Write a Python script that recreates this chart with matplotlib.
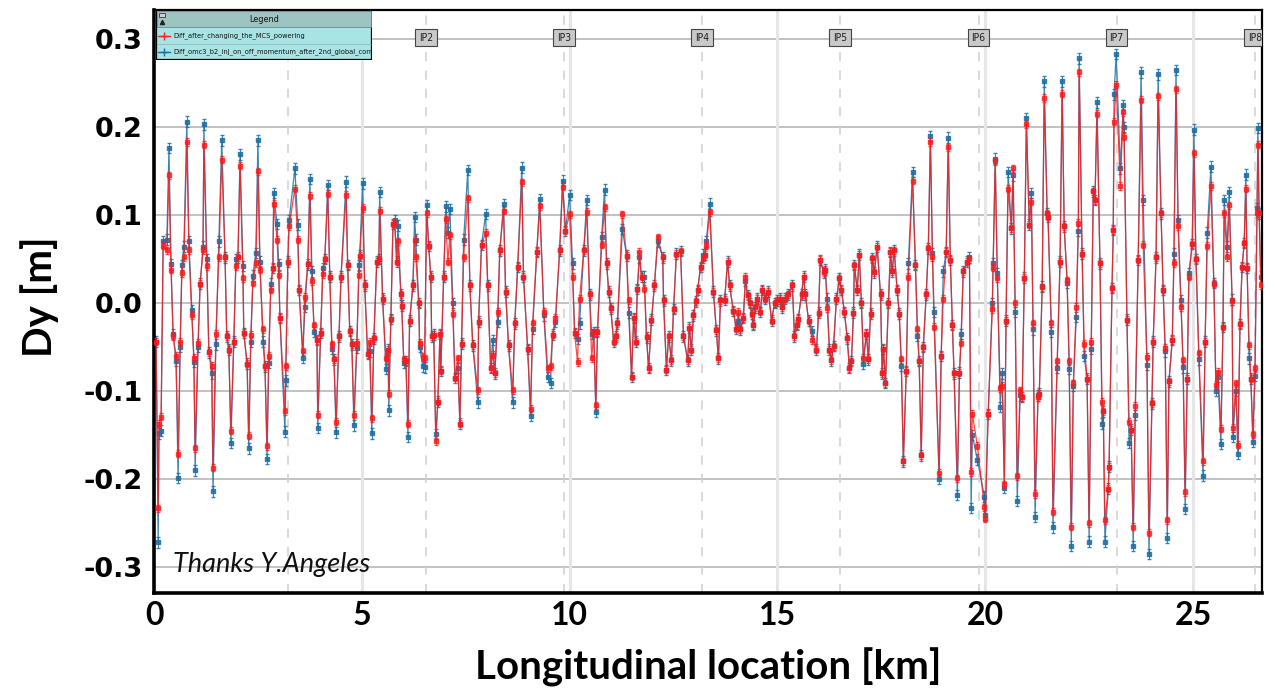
import numpy as np
import matplotlib.pyplot as plt
from matplotlib.patches import Rectangle

plt.rcParams["axes.unicode_minus"] = False

# longitudinal position of each BPM point [km]
s_km = [
    0.05, 0.10, 0.12, 0.17, 0.22, 0.31, 0.36, 0.41, 0.46, 0.53,
    0.58, 0.63, 0.67, 0.72, 0.79, 0.84, 0.91, 0.96, 0.99, 1.06,
    1.11, 1.18, 1.20, 1.27, 1.32, 1.39, 1.42, 1.49, 1.56, 1.63,
    1.71, 1.75, 1.80, 1.85, 1.92, 1.97, 2.02, 2.07, 2.14, 2.16,
    2.24, 2.28, 2.33, 2.38, 2.45, 2.50, 2.55, 2.62, 2.67, 2.72,
    2.76, 2.81, 2.86, 2.88, 2.96, 3.00, 3.03, 3.15, 3.17, 3.22,
    3.25, 3.39, 3.46, 3.49, 3.58, 3.63, 3.70, 3.75, 3.80, 3.85,
    3.92, 3.94, 4.01, 4.06, 4.11, 4.18, 4.23, 4.28, 4.33, 4.38,
    4.45, 4.50, 4.62, 4.66, 4.71, 4.76, 4.81, 4.88, 4.93, 4.95,
    5.02, 5.07, 5.14, 5.19, 5.24, 5.29, 5.36, 5.41, 5.43, 5.50,
    5.58, 5.63, 5.65, 5.70, 5.75, 5.79, 5.84, 5.87, 5.94, 5.96,
    6.01, 6.06, 6.11, 6.15, 6.23, 6.27, 6.30, 6.37, 6.39, 6.47,
    6.51, 6.56, 6.61, 6.66, 6.68, 6.73, 6.78, 6.83, 6.88, 6.90,
    6.97, 7.02, 7.07, 7.12, 7.19, 7.24, 7.31, 7.36, 7.40, 7.45,
    7.55, 7.60, 7.67, 7.79, 7.81, 7.88, 7.98, 8.03, 8.10, 8.15,
    8.20, 8.27, 8.32, 8.41, 8.46, 8.53, 8.63, 8.68, 8.75, 8.85,
    8.89, 8.99, 9.06, 9.11, 9.21, 9.28, 9.38, 9.47, 9.54, 9.59,
    9.66, 9.76, 9.83, 9.90, 10.00, 10.07, 10.12, 10.19, 10.24, 10.34,
    10.41, 10.48, 10.53, 10.58, 10.63, 10.67, 10.77, 10.84, 10.89, 10.94,
    10.99, 11.06, 11.11, 11.15, 11.27, 11.37, 11.42, 11.49, 11.54, 11.59,
    11.63, 11.68, 11.73, 11.80, 11.85, 11.90, 11.97, 12.04, 12.12, 12.24,
    12.26, 12.33, 12.38, 12.45, 12.50, 12.57, 12.67, 12.74, 12.84, 12.88,
    12.93, 12.98, 13.03, 13.08, 13.15, 13.20, 13.25, 13.29, 13.37, 13.46,
    13.53, 13.58, 13.63, 13.73, 13.80, 13.85, 13.94, 14.01, 14.06, 14.11,
    14.18, 14.23, 14.28, 14.33, 14.38, 14.42, 14.47, 14.52, 14.59, 14.64,
    14.71, 14.78, 14.86, 14.93, 15.00, 15.07, 15.12, 15.19, 15.26, 15.36,
    15.41, 15.46, 15.50, 15.58, 15.63, 15.67, 15.75, 15.84, 15.94, 15.99,
    16.03, 16.11, 16.15, 16.20, 16.25, 16.30, 16.35, 16.42, 16.49, 16.54,
    16.61, 16.68, 16.73, 16.78, 16.83, 16.85, 16.92, 16.97, 17.02, 17.07,
    17.14, 17.19, 17.24, 17.28, 17.33, 17.40, 17.48, 17.52, 17.55, 17.60,
    17.67, 17.72, 17.76, 17.81, 17.88, 17.93, 17.98, 18.03, 18.10, 18.15,
    18.25, 18.32, 18.37, 18.41, 18.46, 18.51, 18.58, 18.63, 18.68, 18.73,
    18.77, 18.89, 18.94, 18.99, 19.06, 19.11, 19.16, 19.21, 19.25, 19.33,
    19.38, 19.42, 19.47, 19.57, 19.62, 19.66, 19.69, 19.81, 19.98, 20.00,
    20.07, 20.17, 20.19, 20.24, 20.29, 20.36, 20.41, 20.46, 20.50, 20.55,
    20.63, 20.67, 20.72, 20.77, 20.84, 20.89, 20.94, 20.99, 21.06, 21.11,
    21.15, 21.20, 21.27, 21.30, 21.37, 21.42, 21.49, 21.51, 21.59, 21.63,
    21.73, 21.80, 21.85, 21.90, 21.97, 22.02, 22.07, 22.12, 22.19, 22.24,
    22.26, 22.33, 22.38, 22.45, 22.50, 22.55, 22.60, 22.64, 22.69, 22.76,
    22.81, 22.84, 22.88, 22.96, 22.98, 23.05, 23.08, 23.10, 23.15, 23.25,
    23.32, 23.34, 23.41, 23.46, 23.51, 23.56, 23.61, 23.68, 23.75, 23.80,
    23.89, 23.94, 24.01, 24.04, 24.11, 24.16, 24.23, 24.28, 24.33, 24.38,
    24.42, 24.50, 24.54, 24.59, 24.64, 24.71, 24.76, 24.81, 24.86, 24.90,
    24.98, 25.02, 25.07, 25.14, 25.24, 25.29, 25.34, 25.43, 25.50, 25.55,
    25.60, 25.67, 25.72, 25.75, 25.82, 25.87, 25.94, 25.96, 26.03, 26.08,
    26.13, 26.18, 26.23, 26.27, 26.30, 26.35, 26.39, 26.44, 26.49, 26.54,
    26.56, 26.59, 26.63,
]

# Dy difference after changing the MCS powering [m] (red)
dy_mcs = [
    -0.044, -0.233, -0.137, -0.129, 0.065, 0.060, 0.145, 0.038, -0.038, -0.060,
    -0.171, -0.044, 0.034, 0.052, 0.183, 0.060, -0.014, -0.062, -0.165, -0.045,
    0.022, 0.060, 0.180, 0.042, -0.056, -0.071, -0.187, -0.035, 0.052, 0.163,
    0.052, -0.038, -0.053, -0.145, -0.044, 0.042, 0.052, 0.156, 0.028, -0.034,
    -0.069, -0.151, -0.036, 0.023, 0.045, 0.150, 0.038, -0.030, -0.072, -0.163,
    -0.060, 0.015, 0.040, 0.113, 0.072, 0.032, -0.017, -0.123, -0.072, 0.047,
    0.087, 0.130, 0.072, 0.015, -0.055, 0.007, 0.044, 0.122, 0.025, -0.025,
    -0.042, -0.127, -0.034, 0.033, 0.050, 0.124, 0.030, -0.047, -0.064, -0.135,
    -0.038, 0.030, 0.123, 0.043, -0.032, -0.047, -0.127, -0.045, 0.032, 0.054,
    0.108, 0.020, -0.058, -0.044, -0.131, -0.040, 0.047, 0.050, 0.105, 0.005,
    -0.062, -0.053, -0.103, -0.018, 0.090, 0.091, 0.047, 0.070, 0.010, -0.003,
    -0.064, -0.066, -0.137, -0.020, 0.020, 0.072, 0.052, 0.000, -0.045, -0.061,
    -0.063, 0.102, 0.065, 0.030, -0.038, -0.036, -0.157, -0.112, -0.035, -0.077,
    0.030, 0.095, 0.047, 0.077, -0.012, -0.085, -0.063, -0.137, -0.046, 0.052,
    0.119, 0.020, -0.048, -0.099, -0.021, 0.066, 0.080, 0.020, -0.074, -0.059,
    -0.080, -0.010, 0.060, 0.105, 0.013, -0.048, -0.099, -0.023, 0.041, 0.137,
    0.030, -0.052, -0.120, -0.023, 0.058, 0.110, -0.010, -0.074, -0.072, -0.036,
    -0.017, 0.060, 0.132, 0.082, 0.101, 0.030, -0.034, -0.067, 0.005, 0.060,
    0.104, 0.010, -0.063, -0.033, -0.116, -0.033, 0.066, 0.109, 0.045, 0.013,
    -0.006, -0.044, -0.038, -0.023, 0.101, 0.054, 0.003, -0.084, -0.017, -0.044,
    0.016, 0.058, 0.030, 0.016, -0.039, -0.074, -0.019, 0.020, 0.075, 0.052,
    0.003, -0.076, -0.038, -0.065, -0.007, 0.056, 0.059, -0.038, -0.065, -0.028,
    -0.053, -0.014, 0.002, 0.015, 0.041, 0.050, 0.055, 0.065, 0.103, 0.013,
    -0.031, -0.063, 0.003, 0.004, 0.047, 0.020, -0.009, -0.029, -0.010, -0.030,
    -0.017, 0.030, 0.009, 0.000, -0.012, -0.025, -0.005, 0.005, -0.010, 0.015,
    0.005, 0.013, -0.020, 0.000, 0.003, 0.005, -0.005, 0.005, 0.010, 0.020,
    -0.038, -0.025, -0.018, 0.010, 0.030, 0.010, -0.020, -0.042, -0.053, -0.011,
    0.049, 0.035, 0.038, -0.006, -0.053, -0.065, -0.049, 0.005, 0.028, 0.015,
    -0.010, -0.040, -0.074, -0.066, -0.011, 0.043, 0.015, 0.055, 0.000, -0.062,
    -0.035, -0.064, -0.012, 0.051, 0.035, 0.064, 0.010, -0.080, -0.052, -0.091,
    0.000, 0.058, 0.036, 0.060, 0.015, -0.012, -0.064, -0.180, -0.077, 0.030,
    0.139, 0.043, -0.030, -0.066, -0.173, -0.050, 0.010, 0.062, 0.183, 0.052,
    -0.027, -0.193, -0.060, 0.005, 0.058, 0.177, 0.049, -0.025, -0.080, -0.199,
    -0.079, -0.045, 0.036, 0.047, 0.050, -0.192, -0.126, -0.162, -0.232, -0.245,
    -0.126, -0.007, 0.040, 0.161, 0.028, -0.097, -0.094, -0.206, -0.020, 0.130,
    0.085, 0.153, 0.000, -0.197, -0.099, -0.107, 0.029, 0.203, 0.089, 0.115,
    -0.023, -0.217, -0.107, -0.103, 0.018, 0.233, 0.102, 0.098, -0.023, -0.237,
    -0.066, 0.047, 0.238, 0.087, 0.026, -0.066, -0.254, -0.091, -0.004, 0.091,
    0.262, 0.056, -0.046, -0.086, -0.250, -0.044, 0.127, 0.117, 0.215, 0.045,
    -0.112, -0.123, -0.247, -0.211, -0.186, 0.017, 0.083, 0.206, 0.248, 0.133,
    0.217, 0.189, -0.019, -0.135, -0.144, -0.254, -0.117, 0.049, 0.231, 0.066,
    -0.061, -0.261, -0.114, -0.044, 0.052, 0.235, 0.102, 0.015, -0.051, -0.247,
    -0.089, -0.042, 0.045, 0.243, 0.087, -0.005, -0.065, -0.215, -0.086, 0.030,
    0.067, 0.170, 0.050, -0.057, -0.180, -0.044, 0.065, 0.133, 0.022, -0.093,
    -0.078, -0.143, -0.027, 0.102, 0.052, 0.111, 0.002, -0.142, -0.091, -0.161,
    -0.024, 0.041, 0.068, 0.130, 0.040, -0.048, -0.086, -0.149, -0.074, 0.102,
    0.180, 0.102, 0.020,
]

# Dy difference omc3 b2 inj on/off momentum after 2nd global corr [m] (blue)
dy_omc = [
    -0.044, -0.272, -0.148, -0.145, 0.070, 0.072, 0.176, 0.044, -0.035, -0.066,
    -0.199, -0.050, 0.043, 0.064, 0.206, 0.070, -0.008, -0.067, -0.190, -0.050,
    0.022, 0.064, 0.203, 0.050, -0.056, -0.080, -0.214, -0.047, 0.070, 0.185,
    0.052, -0.038, -0.053, -0.159, -0.044, 0.050, 0.052, 0.169, 0.042, -0.034,
    -0.069, -0.165, -0.044, 0.031, 0.057, 0.185, 0.047, -0.044, -0.072, -0.177,
    -0.068, 0.022, 0.040, 0.125, 0.090, 0.044, -0.017, -0.146, -0.088, 0.047,
    0.094, 0.153, 0.089, 0.015, -0.062, -0.004, 0.044, 0.141, 0.036, -0.033,
    -0.042, -0.142, -0.034, 0.040, 0.050, 0.134, 0.030, -0.052, -0.064, -0.147,
    -0.038, 0.030, 0.138, 0.043, -0.032, -0.047, -0.139, -0.051, 0.043, 0.054,
    0.136, 0.020, -0.058, -0.055, -0.148, -0.040, 0.047, 0.050, 0.126, 0.005,
    -0.075, -0.053, -0.122, -0.018, 0.090, 0.094, 0.047, 0.088, 0.010, -0.003,
    -0.068, -0.066, -0.152, -0.020, 0.020, 0.098, 0.072, 0.000, -0.050, -0.072,
    -0.073, 0.111, 0.065, 0.030, -0.038, -0.036, -0.149, -0.112, -0.035, -0.077,
    0.030, 0.110, 0.080, 0.107, 0.000, -0.085, -0.074, -0.137, -0.046, 0.072,
    0.151, 0.020, -0.048, -0.113, -0.021, 0.066, 0.101, 0.020, -0.074, -0.042,
    -0.080, -0.021, 0.060, 0.112, 0.013, -0.048, -0.113, -0.023, 0.041, 0.154,
    0.030, -0.052, -0.128, -0.029, 0.058, 0.118, -0.014, -0.084, -0.091, -0.036,
    -0.021, 0.060, 0.139, 0.082, 0.123, 0.045, -0.034, -0.041, -0.023, 0.060,
    0.117, 0.010, -0.035, -0.033, -0.124, -0.033, 0.075, 0.129, 0.045, 0.013,
    -0.006, -0.044, -0.038, -0.023, 0.084, 0.054, -0.011, -0.084, -0.017, -0.044,
    0.016, 0.052, 0.030, 0.030, -0.039, -0.074, -0.019, 0.020, 0.070, 0.052,
    0.003, -0.076, -0.038, -0.065, -0.007, 0.056, 0.059, -0.038, -0.065, -0.028,
    -0.053, -0.014, 0.002, 0.015, 0.041, 0.055, 0.055, 0.070, 0.113, 0.013,
    -0.031, -0.063, 0.003, 0.004, 0.047, 0.020, -0.009, -0.029, -0.020, -0.030,
    -0.017, 0.025, 0.009, 0.000, -0.012, -0.025, -0.005, 0.005, -0.010, 0.015,
    0.005, 0.013, -0.020, 0.000, 0.003, 0.005, -0.005, 0.005, 0.010, 0.020,
    -0.038, -0.025, -0.018, 0.010, 0.030, 0.010, -0.020, -0.032, -0.053, -0.011,
    0.049, 0.035, 0.038, 0.005, -0.053, -0.065, -0.049, 0.005, 0.028, 0.015,
    -0.010, -0.040, -0.074, -0.066, -0.011, 0.043, 0.015, 0.055, 0.000, -0.069,
    -0.035, -0.064, -0.012, 0.051, 0.035, 0.064, 0.010, -0.080, -0.052, -0.091,
    0.000, 0.058, 0.036, 0.060, 0.015, -0.012, -0.071, -0.180, -0.077, 0.045,
    0.149, 0.043, -0.037, -0.066, -0.173, -0.050, 0.010, 0.062, 0.190, 0.057,
    -0.010, -0.200, -0.060, 0.036, 0.058, 0.188, 0.049, -0.025, -0.080, -0.218,
    -0.079, -0.035, 0.036, 0.047, 0.052, -0.233, -0.150, -0.178, -0.220, -0.241,
    -0.126, 0.000, 0.045, 0.164, 0.034, -0.118, -0.080, -0.210, -0.020, 0.149,
    0.085, 0.145, -0.010, -0.225, -0.105, -0.107, 0.029, 0.210, 0.089, 0.125,
    -0.030, -0.243, -0.105, -0.103, 0.019, 0.252, 0.102, 0.098, -0.033, -0.255,
    -0.074, 0.047, 0.252, 0.087, 0.023, -0.075, -0.276, -0.094, -0.016, 0.082,
    0.278, 0.056, -0.060, -0.086, -0.271, -0.052, 0.127, 0.117, 0.228, 0.045,
    -0.137, -0.123, -0.271, -0.211, -0.186, 0.017, 0.083, 0.237, 0.283, 0.153,
    0.225, 0.200, -0.019, -0.159, -0.144, -0.276, -0.127, 0.049, 0.262, 0.117,
    -0.070, -0.285, -0.114, -0.044, 0.052, 0.260, 0.102, 0.015, -0.055, -0.267,
    -0.089, -0.042, 0.056, 0.265, 0.094, 0.003, -0.073, -0.234, -0.086, 0.034,
    0.067, 0.197, 0.050, -0.064, -0.196, -0.044, 0.080, 0.155, 0.023, -0.100,
    -0.084, -0.160, -0.027, 0.117, 0.064, 0.126, 0.004, -0.152, -0.100, -0.171,
    -0.024, 0.041, 0.068, 0.146, 0.040, -0.063, -0.086, -0.158, -0.083, 0.108,
    0.199, 0.102, 0.030,
]

err_mcs = 0.004
err_omc = 0.006

# IP1 sits under the legend panel, so only its line shows
ip_km = [3.22, 6.54, 9.86, 13.19, 16.51, 19.84, 23.16, 26.49]
ip_labels = ["", "IP2", "IP3", "IP4", "IP5", "IP6", "IP7", "IP8"]

label_mcs = "Diff_after_changing_the_MCS_powering"
label_omc = "Diff_omc3_b2_inj_on_off_momentum_after_2nd_global_corr"

narrow = dict(family="DejaVu Sans", fontstretch="condensed")

W, H = 1276, 691
fig = plt.figure(figsize=(W / 100, H / 100), dpi=100)
ax = fig.add_axes([154 / W, 1 - 593 / H, (1262 - 154) / W, (593 - 10) / H])

# grid and IP markers
for y in [-0.3, -0.2, -0.1, 0.0, 0.1, 0.2, 0.3]:
    ax.axhline(y, color="#bdbdbd", lw=1.3, zorder=0)
for x in [5, 10, 15, 20, 25]:
    ax.axvline(x, color="#e6e6e6", lw=2.2, zorder=0)
for name, x in zip(ip_labels, ip_km):
    ax.axvline(x, color="#cfcfcf", lw=1.1, ls=(0, (6, 6)), zorder=0)
    if name:
        ax.text(x, 0.3015, name, ha="center", va="center", fontsize=7.5,
                color="#222222", zorder=4, clip_on=True,
                bbox=dict(boxstyle="square,pad=0.35", fc="#c9c9c9", ec="#444444", lw=0.8),
                **narrow)

ax.errorbar(s_km, dy_omc, yerr=err_omc, fmt="-s", color="#1c6ea4", ms=3.2,
            lw=0.9, elinewidth=0.7, capsize=1.5, alpha=0.85, zorder=2)
ax.errorbar(s_km, dy_mcs, yerr=err_mcs, fmt="-s", color="#ff1a1a", ms=3.2,
            lw=0.9, elinewidth=0.7, capsize=1.5, alpha=0.8, zorder=3)

ax.set_xlim(0, 26.659)
ax.set_ylim(-0.3295, 0.333)
ax.set_xticks([0, 5, 10, 15, 20, 25])
ax.set_yticks([-0.3, -0.2, -0.1, 0.0, 0.1, 0.2, 0.3])
ax.set_yticklabels(["-0.3", "-0.2", "-0.1", "0.0", "0.1", "0.2", "0.3"])
ax.tick_params(length=0)
ax.tick_params(axis="y", pad=8)
ax.tick_params(axis="x", pad=6)
for lab in ax.get_yticklabels():
    lab.set_fontsize(19.5)
    lab.set_fontweight("bold")
    lab.set_family("DejaVu Sans")
for lab in ax.get_xticklabels():
    lab.set_fontsize(23)
    lab.set_fontweight("bold")
    lab.set_family(["Lato", "DejaVu Sans"])

for side, lw in [("left", 2.6), ("bottom", 2.6), ("top", 1.6), ("right", 1.6)]:
    ax.spines[side].set_linewidth(lw)
    ax.spines[side].set_color("black")

ax.text(0.45, -0.306, "Thanks Y.Angeles", fontsize=19.5, style="italic",
        family=["Lato", "DejaVu Sans"], color="#111111", va="baseline", zorder=5)

fig.text(40 / W, 1 - 297 / H, "Dy [m]", rotation=90, ha="center", va="center",
         fontsize=29, fontweight="bold", family=["Lato", "DejaVu Sans"])
fig.text(708 / W, 1 - 667 / H, "Longitudinal location [km]", ha="center", va="center",
         fontsize=29, fontweight="bold", family=["Lato", "DejaVu Sans"])

# legend panel drawn in pixel units
lg = fig.add_axes([156 / W, 1 - 60 / H, 216 / W, 50 / H])
lg.set_xlim(0, 216)
lg.set_ylim(50, 0)
lg.axis("off")
lg.add_patch(Rectangle((0, 0), 216, 50, fc="#a9e4e4", ec="black", lw=1.6))
lg.add_patch(Rectangle((1, 1), 214, 16, fc="#9dc3c3", ec="#6a8a8a", lw=0.6))
lg.add_patch(Rectangle((3, 3), 6, 4, fc="#d0d0d0", ec="#333333", lw=0.6))
lg.plot([6], [12], marker="^", ms=3, color="#222222")
lg.text(108, 9, "Legend", ha="center", va="center", fontsize=6.5,
        color="#111111", **narrow)
lg.plot([2, 215], [34, 34], color="#8fb0b0", lw=0.5)
lg.plot([2, 14], [26, 26], color="#ff2020", lw=1)
lg.plot([8], [26], marker="+", ms=6, color="#ff2020", mew=1)
lg.plot([2, 14], [42, 42], color="#1c6ea4", lw=1)
lg.plot([8], [42], marker="+", ms=6, color="#1c6ea4", mew=1)
lg.text(17, 26, label_mcs, va="center", fontsize=5.3, color="#111111", **narrow)
lg.text(17, 42, label_omc, va="center", fontsize=5.3, color="#111111", **narrow)

fig.savefig("out.png", dpi=100)
